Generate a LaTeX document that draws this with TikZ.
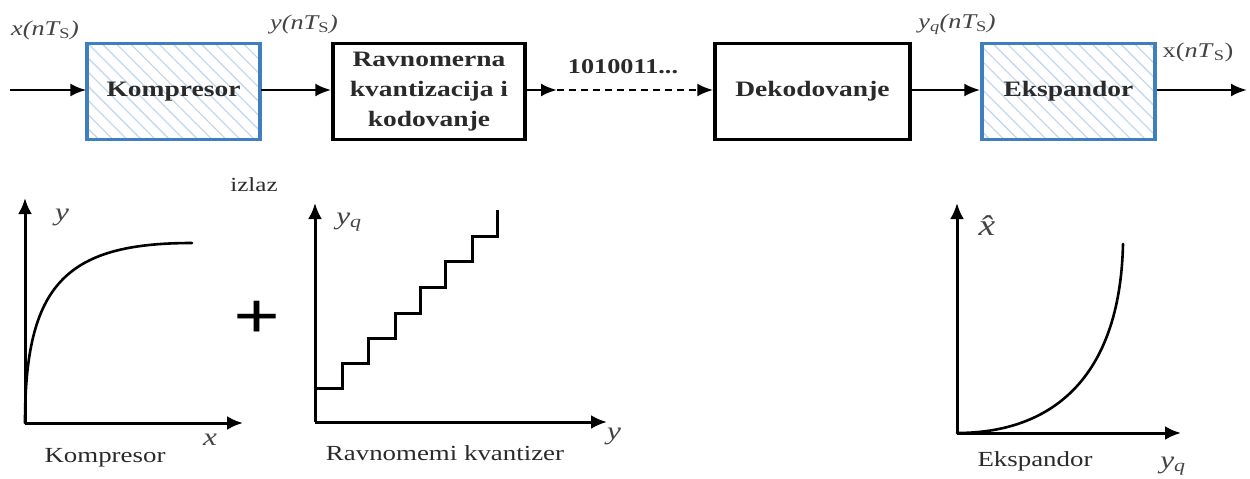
\documentclass[tikz,border=0pt]{standalone}
\usepackage{fontspec}
\setmainfont[FakeStretch=1.25]{Liberation Serif}
\usetikzlibrary{arrows.meta,patterns.meta}
\definecolor{blueb}{HTML}{3F7FBF}
\definecolor{hatchc}{HTML}{C4D8EC}
\definecolor{txt}{HTML}{2A2A2A}
\definecolor{lbl}{HTML}{444444}
\begin{document}
\begin{tikzpicture}[x=1pt,y=-1pt,
  blk/.style={draw=black, line width=3.5pt, minimum height=96pt, inner sep=0pt,
    font=\bfseries\fontsize{22}{30}\selectfont, align=center, text=txt},
  hat/.style={blk, draw=blueb, line width=3.5pt,
    pattern={Lines[angle=-45,distance=10pt,line width=1.3pt]}, pattern color=hatchc},
  arr/.style={line width=2.6pt, -{Latex[length=16pt,width=13pt]}},
  ax/.style={line width=3pt, -{Latex[length=16pt,width=14pt]}},
  sig/.style={font=\itshape\fontsize{21}{23}\selectfont, text=lbl, inner sep=0pt},
  gcap/.style={font=\fontsize{21.5}{23}\selectfont, text=txt, inner sep=0pt},
  crv/.style={line width=2.6pt, line cap=round}
]
\useasboundingbox (0,0) rectangle (1250,479);

% ---- top chain ----
\node[hat, minimum width=173pt] (kom) at (173.5,91.5) {Kompresor};
\node[blk, minimum width=192pt] (rav) at (429,91.5) {Ravnomerna\\kvantizacija i\\kodovanje};
\node[blk, minimum width=195pt] (dek) at (812.5,91.5) {Dekodovanje};
\node[hat, minimum width=173pt] (eks) at (1068.5,91.5) {Ekspandor};

\coordinate (in) at (10,90);
\coordinate (mid) at (557,90);
\coordinate (out) at (1247,90);

\draw[arr] (in) -- (in -| kom.west);
\draw[arr] (kom.east |- in) -- (rav.west |- in);
\draw[arr] (rav.east |- in) -- (mid);
\draw[arr, dashed, dash pattern=on 7pt off 5pt] (mid) -- (dek.west |- in);
\draw[arr] (dek.east |- in) -- (eks.west |- in);
\draw[arr] (eks.east |- in) -- (out);

\node[sig] (lx) at (45,30) {x(nT\textsubscript{\upshape S})};
\node[sig] (ly) at (304,24) {y(nT\textsubscript{\upshape S})};
\node[sig] (lyq) at (957,24) {y\textsubscript{q}(nT\textsubscript{\upshape S})};
\node[sig, font=\fontsize{21}{23}\selectfont] (lxo) at (1198,52) {x(\textit{nT}\textsubscript{S})};
\node[font=\bfseries\fontsize{21}{23}\selectfont, text=txt, inner sep=0pt] (bits) at (623,67) {1010011...};

% ---- compressor graph ----
\coordinate (o1) at (25,423);
\coordinate (y1) at (25,198);
\coordinate (x1) at (243,423);
\draw[ax] (o1) -- (y1);
\draw[ax] (o1) -- (x1);
\draw[crv] (o1) .. controls (25,285) and (65,243) .. (192,243);
\node[sig, font=\itshape\fontsize{25}{27}\selectfont] (cy) at (62,217) {y};
\node[sig, font=\itshape\fontsize{25}{27}\selectfont] (cx) at (210,440) {x};
\node[gcap] (ck) at (105,458) {Kompresor};

\node[font=\bfseries\fontsize{66}{66}\selectfont, inner sep=0pt] (plus) at (257,320) {+};
\node[gcap, font=\fontsize{20}{22}\selectfont] (izl) at (254,185) {izlaz};

% ---- quantizer graph ----
\coordinate (o2) at (315,422);
\coordinate (y2) at (315,203);
\coordinate (x2) at (607,422);
\draw[ax] (o2) -- (y2);
\draw[ax] (o2) -- (x2);
\draw[line width=3pt] (315,388) -- (342,388) -- (342,363) -- (368,363) -- (368,338)
  -- (395,338) -- (395,313) -- (420,313) -- (420,287) -- (445,287) -- (445,261)
  -- (472,261) -- (472,236) -- (497,236) -- (497,210);
\node[sig, font=\itshape\fontsize{25}{27}\selectfont] (qy) at (349,222) {y\textsubscript{q}};
\node[sig, font=\itshape\fontsize{25}{27}\selectfont] (qx) at (614,436) {y};
\node[gcap] (qk) at (445,453) {Ravnomemi kvantizer};

% ---- expander graph ----
\coordinate (o3) at (957,433);
\coordinate (y3) at (957,203);
\coordinate (x3) at (1181,433);
\draw[ax] (o3) -- (y3);
\draw[ax] (o3) -- (x3);
\draw[crv] (o3) .. controls (1050,433) and (1120,380) .. (1123,244);
\node[sig, font=\itshape\fontsize{30}{32}\selectfont] (ex) at (987,226) {x^^^^0302};
\node[sig, font=\itshape\fontsize{25}{27}\selectfont] (ey) at (1173,466) {y\textsubscript{q}};
\node[gcap] (ek) at (1035,461) {Ekspandor};
\end{tikzpicture}
\end{document}
